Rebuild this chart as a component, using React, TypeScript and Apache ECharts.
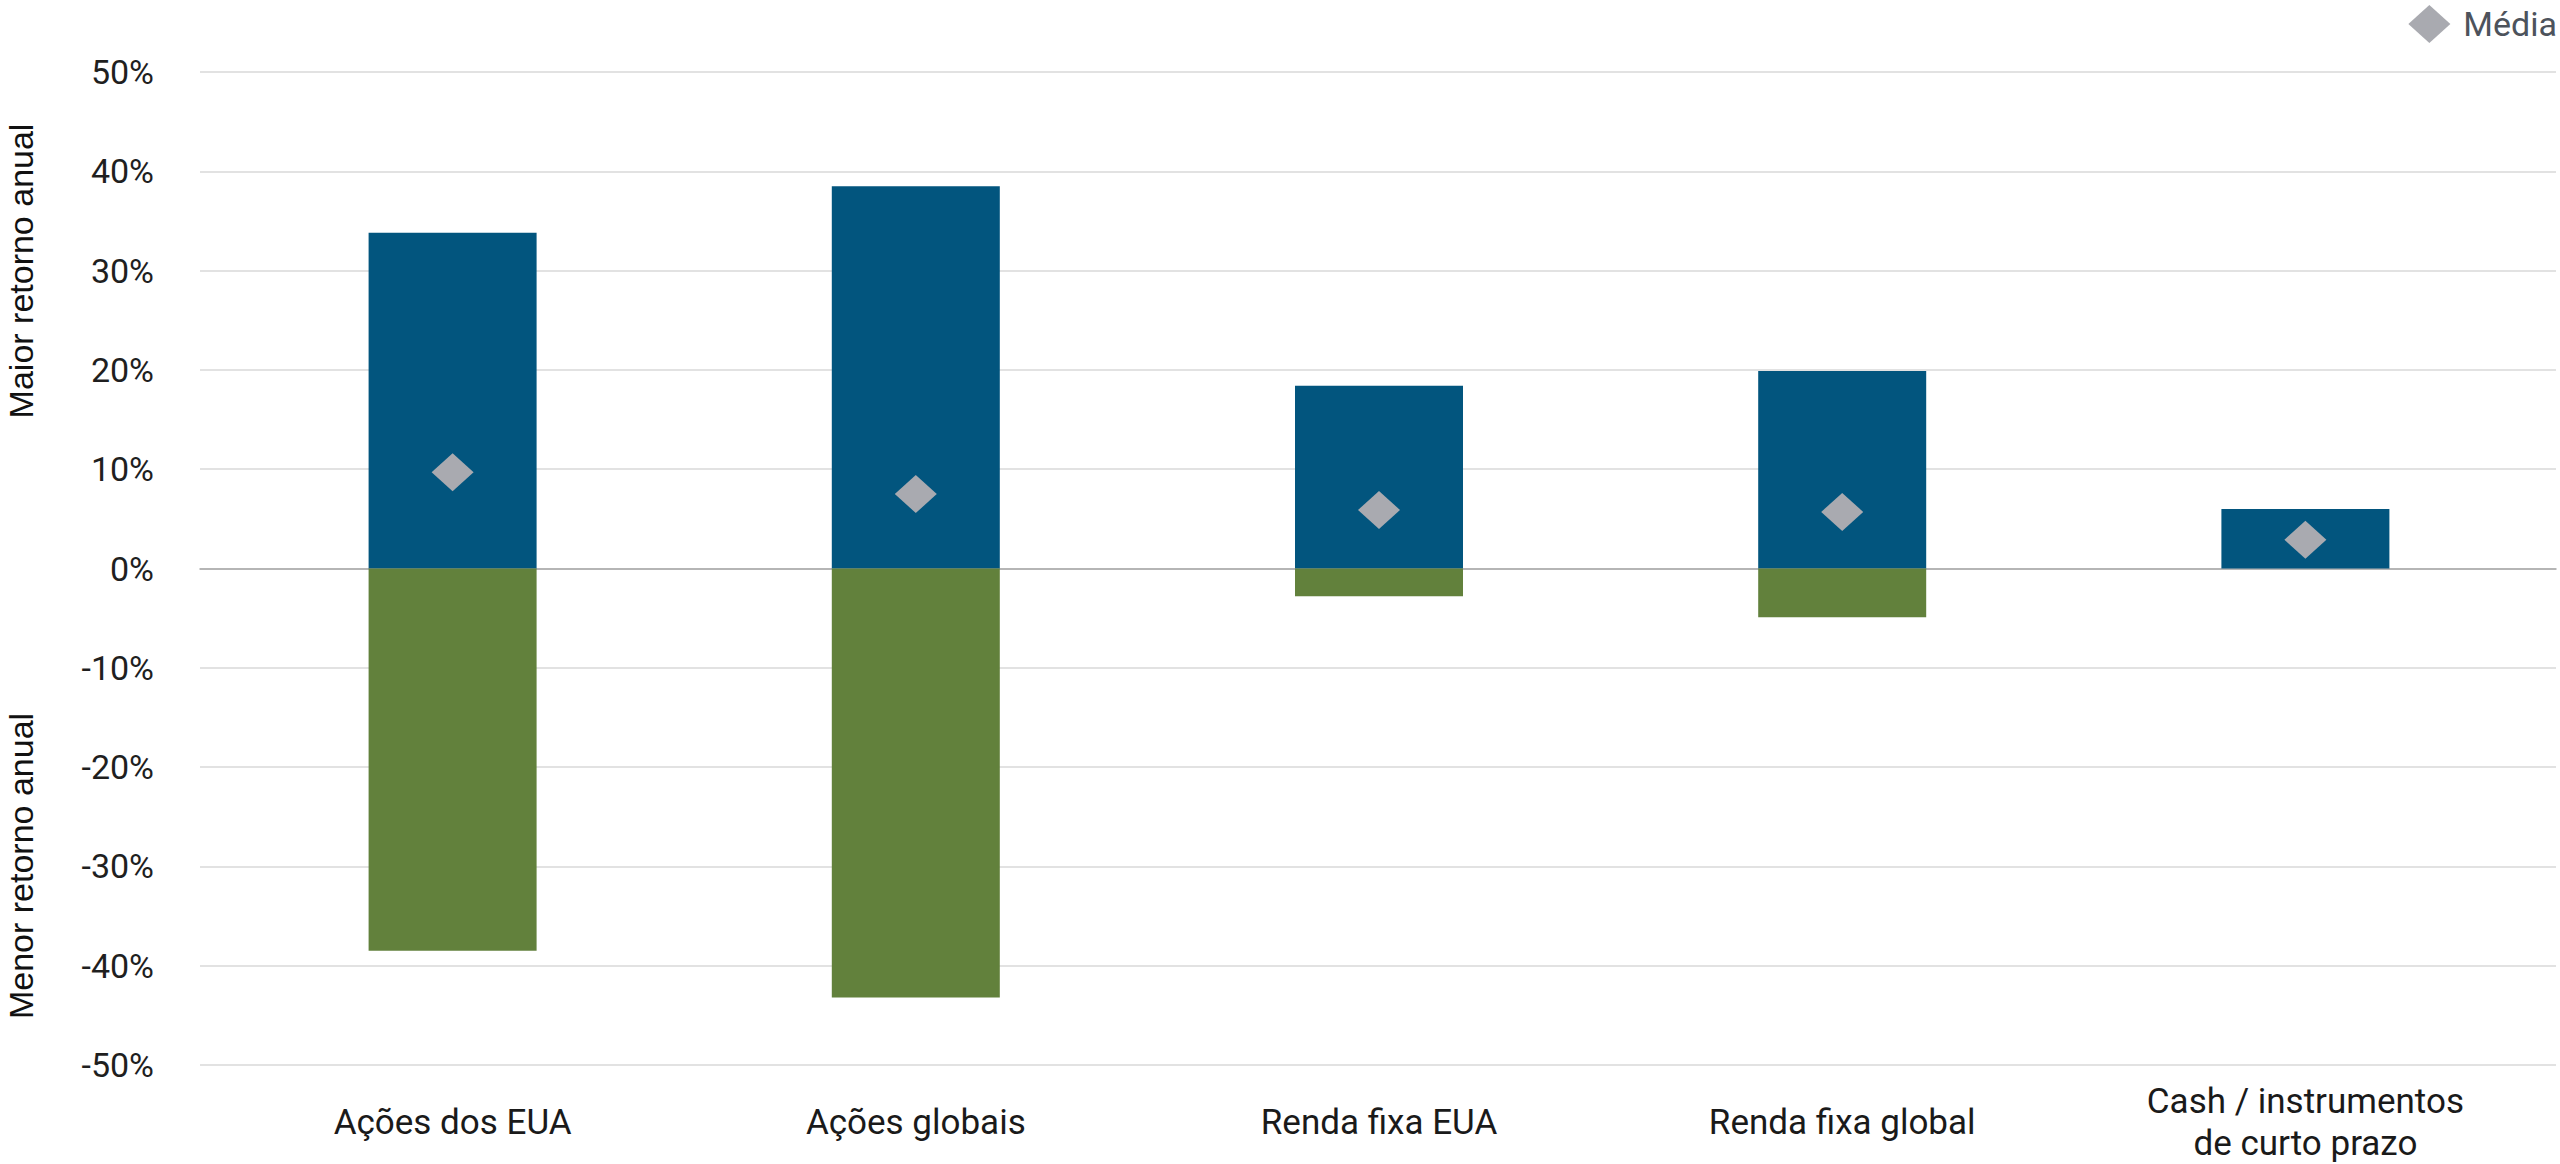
import React, { useEffect, useRef } from "react";
import * as echarts from "echarts";

const categories = [
  "Ações dos EUA",
  "Ações globais",
  "Renda fixa EUA",
  "Renda fixa global",
  "Cash / instrumentos\nde curto prazo",
];
const maxReturn = [33.8, 38.5, 18.4, 19.9, 6.0];
const minReturn = [-38.5, -43.2, -2.8, -4.9, 0];
const meanReturn = [9.7, 7.5, 5.9, 5.7, 2.9];
const yMin = -50;
const yMax = 50;
const yInterval = 10;
const legendName = "Média";
const titleUpper = "Maior retorno anual";
const titleLower = "Menor retorno anual";

const BLUE = "#02557e";
const GREEN = "#62813c";
const GREY = "#a9aab0";
const FONT = "Roboto, 'Noto Sans', sans-serif";
const TITLE_FONT = "'Liberation Sans', Arial, sans-serif";

export default function App() {
  const ref = useRef<HTMLDivElement>(null);
  useEffect(() => {
    if (!ref.current) return;
    const chart = echarts.init(ref.current, undefined, { renderer: "svg" });
    chart.setOption({
      animation: false,
      backgroundColor: "#ffffff",
      legend: {
        data: [{ name: legendName, icon: "diamond" }],
        right: 0,
        top: 5,
        padding: [0, 3, 0, 0],
        itemWidth: 42,
        itemHeight: 38,
        textStyle: {
          fontFamily: FONT,
          fontSize: 34,
          color: "#4d535c",
          padding: [0, 0, 0, 8],
        },
      },
      grid: [
        { left: 200, right: 4, top: 72, bottom: 99, outerBoundsMode: "none" },
        { left: 221, width: 2316, top: 72, bottom: 99, outerBoundsMode: "none" },
      ],
      xAxis: [
        {
          type: "value",
          gridIndex: 0,
          min: 0,
          max: 1,
          axisLine: { show: true, onZero: true, lineStyle: { color: "#a6a6a6", width: 1.5 } },
          axisTick: { show: false },
          axisLabel: { show: false },
          splitLine: { show: false },
        },
        {
          type: "category",
          gridIndex: 1,
          data: categories,
          axisLine: { show: false },
          axisTick: { show: false },
          splitLine: { show: false },
          axisLabel: {
            interval: 0,
            margin: 57,
            verticalAlign: "middle",
            fontFamily: FONT,
            fontSize: 35,
            lineHeight: 42,
            color: "#1a1a1a",
          },
        },
      ],
      yAxis: [
        {
          type: "value",
          gridIndex: 0,
          min: yMin,
          max: yMax,
          interval: yInterval,
          axisLine: { show: false },
          axisTick: { show: false },
          axisLabel: {
            margin: 46,
            fontFamily: FONT,
            fontSize: 34,
            color: "#1f1f1f",
            formatter: (v: number) => `${v}%`,
          },
          splitLine: { show: true, lineStyle: { color: "#d9d9d9", width: 1.5 } },
        },
        {
          type: "value",
          gridIndex: 1,
          min: yMin,
          max: yMax,
          interval: yInterval,
          show: false,
          splitLine: { show: false },
        },
      ],
      graphic: [
        {
          type: "text",
          x: 21,
          y: 271,
          rotation: Math.PI / 2,
          style: {
            text: titleUpper,
            fontFamily: TITLE_FONT,
            fontSize: 34,
            fill: "#111111",
            align: "center",
            verticalAlign: "middle",
          },
        },
        {
          type: "text",
          x: 21,
          y: 866,
          rotation: Math.PI / 2,
          style: {
            text: titleLower,
            fontFamily: TITLE_FONT,
            fontSize: 34,
            fill: "#111111",
            align: "center",
            verticalAlign: "middle",
          },
        },
      ],
      series: [
        {
          name: "Maior",
          type: "bar",
          xAxisIndex: 1,
          yAxisIndex: 1,
          data: maxReturn,
          barWidth: 168,
          itemStyle: { color: BLUE },
        },
        {
          name: "Menor",
          type: "bar",
          xAxisIndex: 1,
          yAxisIndex: 1,
          data: minReturn,
          barWidth: 168,
          barGap: "-100%",
          itemStyle: { color: GREEN },
        },
        {
          name: legendName,
          type: "scatter",
          xAxisIndex: 1,
          yAxisIndex: 1,
          data: meanReturn,
          symbol: "diamond",
          symbolSize: [42, 38],
          itemStyle: { color: GREY, opacity: 1 },
          z: 5,
        },
      ],
    });
    return () => chart.dispose();
  }, []);
  return (
    <div
      ref={ref}
      style={{ position: "fixed", left: 0, top: 0, width: 2560, height: 1164 }}
    />
  );
}
